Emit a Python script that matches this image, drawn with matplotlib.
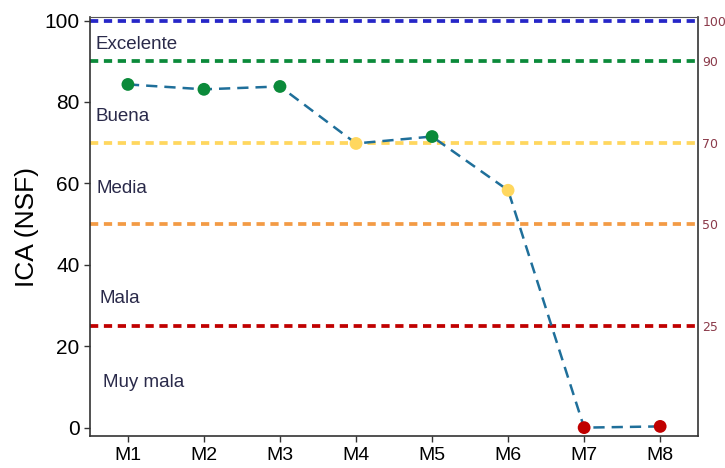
import matplotlib
matplotlib.use('Agg')
import matplotlib.pyplot as plt

plt.rcParams['font.family'] = ['Liberation Sans', 'DejaVu Sans']

# Sampling points and ICA (NSF) values
sites = ['M1', 'M2', 'M3', 'M4', 'M5', 'M6', 'M7', 'M8']
ica = [84.3, 83.1, 83.8, 69.8, 71.5, 58.3, 0.0, 0.3]

# Quality thresholds and class labels
thresholds = [100, 90, 70, 50, 25]
threshold_colors = ['#2626C8', '#0B8A3A', '#FFD75E', '#F39B45', '#C00000']
classes = ['Excelente', 'Buena', 'Media', 'Mala', 'Muy mala']
class_y = [94.0, 76.5, 58.8, 31.8, 11.0]


def point_color(value):
    # Colour of each marker follows the quality class
    if value >= 70:
        return '#0B8A3A'
    if value >= 50:
        return '#FFD75E'
    if value >= 25:
        return '#F39B45'
    return '#C00000'


fig = plt.figure(figsize=(7.25, 4.68), dpi=100)
ax = fig.add_axes([0.124, 0.068, 0.839, 0.896])

x = list(range(1, len(sites) + 1))

for t, c in zip(thresholds, threshold_colors):
    ax.axhline(t, color=c, linestyle=(0, (2.2, 1.5)), linewidth=2.7, zorder=1)

ax.plot(x, ica, color='#1F6F9A', linestyle=(0, (4.5, 2.8)), linewidth=1.8, zorder=2)
ax.scatter(x, ica, s=85, c=[point_color(v) for v in ica], zorder=3, edgecolors='none')

text_x = [0.58, 0.58, 0.59, 0.62, 0.67]
for label, ty, tx in zip(classes, class_y, text_x):
    ax.text(tx, ty, label, fontsize=13.5, color='#2A2A4A', va='center', ha='left')

ax.set_xlim(0.5, 8.5)
ax.set_ylim(-2.1, 100.9)
ax.set_xticks(x)
ax.set_xticklabels(sites, fontsize=14)
ax.set_yticks([0, 20, 40, 60, 80, 100])
ax.tick_params(axis='y', labelsize=15, length=4, width=1, color='#333333')
ax.tick_params(axis='x', length=4, width=1, color='#333333')
ax.set_ylabel('ICA (NSF)', fontsize=19)

for s in ['left', 'bottom', 'right']:
    ax.spines[s].set_color('#333333')
    ax.spines[s].set_linewidth(1.2)
ax.spines['top'].set_color('#555555')
ax.spines['top'].set_linewidth(0.8)

# Threshold values on the right side
ax2 = ax.twinx()
ax2.set_ylim(ax.get_ylim())
ax2.set_yticks(thresholds)
ax2.set_yticklabels([str(t) for t in thresholds], family='DejaVu Sans')
ax2.tick_params(axis='y', length=0, labelsize=9, labelcolor='#8B3A4A', pad=3)
for s in ax2.spines.values():
    s.set_visible(False)

fig.savefig('out.png', dpi=100)
